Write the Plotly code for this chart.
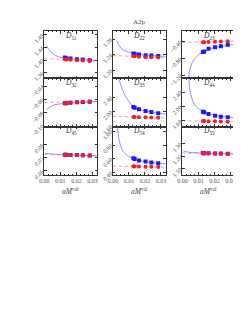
import plotly.graph_objects as go

# ---------------- data ----------------
x_val = [0.0128, 0.0136, 0.0163, 0.0204, 0.0240, 0.0283]
red_line_x = [0.0, 0.033]
x_ticks = [0.00, 0.01, 0.02, 0.03]
x_ticktext = ["0.00", "0.01", "0.02", "0.03"]

# D11
d11_blue = [1.408, 1.406, 1.405, 1.403, 1.402, 1.400]
d11_red = [1.403, 1.402, 1.401, 1.400, 1.399, 1.397]
d11_red_line = [1.406, 1.396]
d11_fit_x = [0.0014, 0.0025, 0.0039, 0.0055, 0.0069, 0.0095, 0.013, 0.018, 0.024, 0.033]
d11_fit_y = [1.445, 1.436, 1.428, 1.420, 1.415, 1.410, 1.407, 1.404, 1.402, 1.399]
d11_ticks = [1.36, 1.40, 1.44, 1.48]

# D22
d22_blue = [1.243, 1.242, 1.241, 1.239, 1.238, 1.237]
d22_red = [1.236, 1.236, 1.235, 1.234, 1.234, 1.233]
d22_red_line = [1.238, 1.232]
d22_fit_x = [0.0024, 0.0035, 0.0049, 0.0065, 0.009, 0.0131, 0.018, 0.024, 0.033]
d22_fit_y = [1.276, 1.266, 1.258, 1.252, 1.248, 1.243, 1.240, 1.238, 1.236]
d22_ticks = [1.20, 1.24, 1.28]

# D23
d23_blue = [-0.645, -0.635, -0.567, -0.530, -0.507, -0.475]
d23_red = [-0.415, -0.413, -0.407, -0.400, -0.395, -0.388]
d23_red_line = [-0.418, -0.380]
d23_fit_x = [0.0039, 0.0043, 0.0053, 0.0073, 0.0104, 0.0135, 0.018, 0.024, 0.033]
d23_fit_y = [-1.27, -1.12, -0.97, -0.82, -0.70, -0.63, -0.56, -0.51, -0.46]
d23_ticks = [-1.20, -0.80, -0.40]

# D32
d32_blue = [-0.0660, -0.0658, -0.0650, -0.0645, -0.0640, -0.0635]
d32_red = [-0.0655, -0.0653, -0.0648, -0.0643, -0.0638, -0.0633]
d32_red_line = [-0.0648, -0.0630]
d32_fit_x = [0.0014, 0.0025, 0.0039, 0.0055, 0.0069, 0.0095, 0.0135, 0.020, 0.033]
d32_fit_y = [-0.0755, -0.0735, -0.0710, -0.0690, -0.0680, -0.0670, -0.0660, -0.0650, -0.0630]
d32_ticks = [-0.10, -0.08, -0.06, -0.04]

# D33
d33_blue = [2.135, 2.115, 2.070, 2.025, 1.995, 1.962]
d33_red = [1.858, 1.856, 1.852, 1.848, 1.842, 1.835]
d33_red_line = [1.875, 1.828]
d33_fit_x = [0.0039, 0.0045, 0.0059, 0.0073, 0.009, 0.0115, 0.015, 0.020, 0.026, 0.033]
d33_fit_y = [2.92, 2.80, 2.62, 2.47, 2.35, 2.20, 2.09, 2.025, 1.98, 1.935]
d33_ticks = [1.60, 2.00, 2.40]

# D44
d44_blue = [1.855, 1.840, 1.793, 1.747, 1.720, 1.704]
d44_red = [1.600, 1.598, 1.594, 1.590, 1.585, 1.580]
d44_red_line = [1.605, 1.575]
d44_fit_x = [0.0040, 0.0047, 0.0058, 0.0075, 0.0105, 0.0135, 0.020, 0.028, 0.033]
d44_fit_y = [2.785, 2.45, 2.25, 2.05, 1.93, 1.85, 1.76, 1.71, 1.69]
d44_ticks = [1.60, 2.00, 2.40]

# D45
d45_blue = [0.0725, 0.0724, 0.0723, 0.0722, 0.0721, 0.0719]
d45_red = [0.0724, 0.0723, 0.0722, 0.0721, 0.0720, 0.0718]
d45_red_line = [0.0726, 0.0716]
d45_fit_x = [0.0005, 0.004, 0.008, 0.013, 0.020, 0.033]
d45_fit_y = [0.0735, 0.0731, 0.0727, 0.0724, 0.0721, 0.0716]
d45_ticks = [0.06, 0.07, 0.08]

# D54
d54_blue = [0.610, 0.600, 0.578, 0.563, 0.549, 0.539]
d54_red = [0.493, 0.492, 0.490, 0.487, 0.485, 0.483]
d54_red_line = [0.497, 0.480]
d54_fit_x = [0.0029, 0.0039, 0.0049, 0.0059, 0.0075, 0.009, 0.012, 0.016, 0.022, 0.033]
d54_fit_y = [1.07, 0.878, 0.79, 0.727, 0.68, 0.648, 0.615, 0.58, 0.555, 0.53]
d54_ticks = [0.40, 0.60, 0.80, 1.00]

# D55
d55_blue = [1.226, 1.225, 1.224, 1.223, 1.222, 1.221]
d55_red = [1.224, 1.223, 1.223, 1.222, 1.221, 1.220]
d55_red_line = [1.226, 1.219]
d55_fit_x = [0.0005, 0.004, 0.008, 0.013, 0.020, 0.033]
d55_fit_y = [1.243, 1.232, 1.228, 1.226, 1.223, 1.219]
d55_ticks = [1.10, 1.20, 1.30]

panel_names = ["11", "22", "23", "32", "33", "44", "45", "54", "55"]

panels = [
    (d11_blue, d11_red, d11_red_line, d11_fit_x, d11_fit_y, d11_ticks, [1.342, 1.492]),
    (d22_blue, d22_red, d22_red_line, d22_fit_x, d22_fit_y, d22_ticks, [1.180, 1.300]),
    (d23_blue, d23_red, d23_red_line, d23_fit_x, d23_fit_y, d23_ticks, [-1.27, -0.15]),
    (d32_blue, d32_red, d32_red_line, d32_fit_x, d32_fit_y, d32_ticks, [-0.1014, -0.0283]),
    (d33_blue, d33_red, d33_red_line, d33_fit_x, d33_fit_y, d33_ticks, [1.59, 2.92]),
    (d44_blue, d44_red, d44_red_line, d44_fit_x, d44_fit_y, d44_ticks, [1.44, 2.785]),
    (d45_blue, d45_red, d45_red_line, d45_fit_x, d45_fit_y, d45_ticks, [0.057, 0.094]),
    (d54_blue, d54_red, d54_red_line, d54_fit_x, d54_fit_y, d54_ticks, [0.368, 1.07]),
    (d55_blue, d55_red, d55_red_line, d55_fit_x, d55_fit_y, d55_ticks, [1.052, 1.436]),
]

# ---------------- layout ----------------
W, H = 241, 312
col_px = [(32, 86), (102, 156), (173, 227)]
row_px = [(24, 73), (73, 123), (123, 173)]
FONT = "Liberation Serif"
frame_col = "#333333"

fig = go.Figure()
layout = dict(
    width=W, height=H, margin=dict(l=0, r=0, t=0, b=0),
    paper_bgcolor="white", plot_bgcolor="white", showlegend=False,
    font=dict(family=FONT, size=6, color="#444444"),
)
annotations = []

for i, (blue, red, rline, fx, fy, yt, yr) in enumerate(panels):
    r, c = divmod(i, 3)
    sfx = "" if i == 0 else str(i + 1)
    xa, ya = "x" + sfx, "y" + sfx
    x0, x1 = col_px[c]
    y0, y1 = row_px[r]
    xdom = [x0 / W, x1 / W]
    ydom = [1 - y1 / H, 1 - y0 / H]

    fig.add_trace(go.Scatter(x=fx, y=fy, mode="lines", xaxis=xa, yaxis=ya,
                             line=dict(color="rgba(90,90,255,0.85)", width=0.8, shape="spline"),
                             hoverinfo="skip"))
    fig.add_trace(go.Scatter(x=red_line_x, y=rline, mode="lines", xaxis=xa, yaxis=ya,
                             line=dict(color="rgba(255,110,110,0.8)", width=0.9, dash="dot"),
                             hoverinfo="skip"))
    fig.add_trace(go.Scatter(x=x_val, y=blue, mode="markers", xaxis=xa, yaxis=ya,
                             marker=dict(symbol="square", size=4, color="#1a1aff")))
    fig.add_trace(go.Scatter(x=x_val, y=red, mode="markers", xaxis=xa, yaxis=ya,
                             marker=dict(symbol="circle", size=4, color="#ff1a1a")))

    layout["xaxis" + sfx] = dict(
        domain=xdom, anchor=ya, range=[0, 0.033],
        tickvals=x_ticks, ticktext=x_ticktext,
        showticklabels=(r == 2), ticks="inside", ticklen=2.5, tickcolor=frame_col,
        tickwidth=0.6,
        minor=dict(ticks="inside", ticklen=1.3, dtick=0.0025, tickcolor=frame_col, tickwidth=0.5),
        showline=True, linecolor=frame_col, linewidth=1, mirror="allticks",
        showgrid=False, zeroline=False, tickfont=dict(size=6, color="#555555"),
    )
    layout["yaxis" + sfx] = dict(
        domain=ydom, anchor=xa, range=yr, tickvals=yt, tickformat=".2f",
        ticks="inside", ticklen=2.5, tickcolor=frame_col, tickwidth=0.6,
        showline=True, linecolor=frame_col, linewidth=1, mirror="allticks",
        showgrid=False, zeroline=False, tickangle=-45,
        tickfont=dict(size=6, color="#555555"),
    )
    annotations.append(dict(
        xref="paper", yref="paper", x=(x0 + x1) / 2 / W, y=1 - (y0 + 5) / H,
        text="<i>D</i><sub>" + panel_names[i] + "</sub>", showarrow=False,
        font=dict(family=FONT, size=7.5, color="#333333"), xanchor="center", yanchor="middle",
    ))

for c in range(3):
    x0, x1 = col_px[c]
    annotations.append(dict(
        xref="paper", yref="paper", x=(x0 + x1) / 2 / W, y=1 - 190 / H,
        text="<i>aM</i><sup>val</sup>", showarrow=False,
        font=dict(family=FONT, size=7.5, color="#444444"), xanchor="center", yanchor="middle",
    ))

annotations.append(dict(
    xref="paper", yref="paper", x=129.5 / W, y=1 - 14 / H, text="A2p", showarrow=False,
    font=dict(family=FONT, size=7, color="#444444"), xanchor="center", yanchor="middle",
))

layout["annotations"] = annotations
fig.update_layout(**layout)
fig.write_html("out.html", config={"displayModeBar": False})
